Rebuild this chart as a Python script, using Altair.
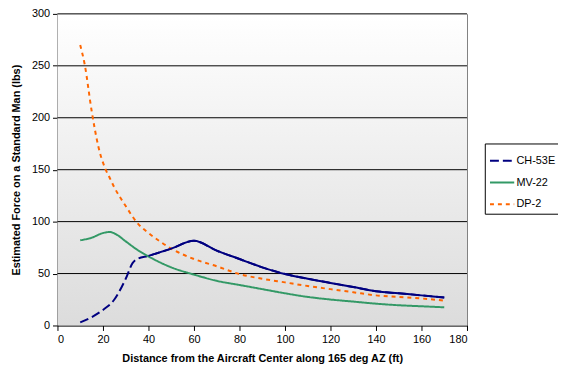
import altair as alt
import pandas as pd

# CH-53E
ch_x = [10, 15, 20, 25, 30, 33, 35, 40, 50, 60, 70, 80, 90, 100, 110, 120, 130, 140, 150, 160, 170]
ch_y = [3, 8, 15, 25, 45, 60, 64, 67, 74, 81.5, 72, 64, 56, 49.5, 45, 41, 37, 33, 31, 29, 27]
# MV-22
mv_x = [10, 15, 20, 23, 26, 30, 35, 40, 50, 60, 70, 80, 90, 100, 110, 120, 130, 140, 150, 160, 170]
mv_y = [82, 84.5, 89, 90, 87.5, 81, 73, 66.5, 56, 49, 43, 39, 35, 31, 27.5, 25, 23, 21, 19.5, 18.5, 17.5]
# DP-2
dp_x = [10, 12, 15, 18, 21, 23, 25, 30, 35, 40, 45, 50, 60, 70, 80, 90, 100, 110, 120, 130, 140, 150, 160, 170]
dp_y = [270, 251, 207, 172, 151, 142, 133, 115, 99, 89, 81, 74, 64, 57, 49.5, 45, 41.5, 38, 35, 32, 29, 27.5, 26, 24]

series = ["CH-53E", "MV-22", "DP-2"]
colors = ["#000080", "#339966", "#FF6600"]
dashes = [[9, 4], [1, 0], [4, 4]]
y_ticks = [0, 50, 100, 150, 200, 250, 300]
grid_vals = [50, 100, 150, 200, 250, 300]

rows = []
for name, xs_, ys_ in [("CH-53E", ch_x, ch_y), ("MV-22", mv_x, mv_y), ("DP-2", dp_x, dp_y)]:
    for a, b in zip(xs_, ys_):
        rows.append({"series": name, "x": a, "y": b})
df = pd.DataFrame(rows)
ch_solid = df[(df.series == "CH-53E") & (df.x >= 37)]

W, H = 414, 315
FONT = "Liberation Sans"

xscale = alt.Scale(domain=[0, 180], nice=False)
yscale = alt.Scale(domain=[0, 300], nice=False)

xs = alt.X("x:Q", scale=xscale,
           axis=alt.Axis(values=list(range(0, 181, 20)), grid=False,
                         title="Distance from the Aircraft Center along 165 deg AZ (ft)",
                         titleFontWeight="bold", titleFontSize=11, titlePadding=8,
                         labelFontSize=11, labelPadding=3, tickSize=5,
                         domainColor="black", tickColor="black", labelColor="black"))
ys = alt.Y("y:Q", scale=yscale,
           axis=alt.Axis(values=y_ticks, grid=False,
                         title="Estimated Force on a Standard Man (lbs)",
                         titleFontWeight="bold", titleFontSize=11, titlePadding=10,
                         labelFontSize=11, labelPadding=3, tickSize=5,
                         domainColor="black", tickColor="black", labelColor="black"))

bg = alt.Chart(pd.DataFrame({"a": [0]})).mark_rect(
    fill=alt.Gradient(gradient="linear", x1=0, y1=0, x2=0, y2=1,
                      stops=[alt.GradientStop(color="#ffffff", offset=0),
                             alt.GradientStop(color="#dcdcdc", offset=1)])
).encode(x=alt.value(0), x2=alt.value(W), y=alt.value(0), y2=alt.value(H))

grid = alt.Chart(pd.DataFrame({"y": grid_vals})).mark_rule(color="#000000", strokeWidth=1).encode(
    y=ys)

lines = alt.Chart(df).mark_line(strokeWidth=2, interpolate="monotone").encode(
    x=xs, y=ys,
    color=alt.Color("series:N", scale=alt.Scale(domain=series, range=colors),
                    sort=series,
                    legend=alt.Legend(title=None, orient="none", legendX=432, legendY=131,
                                      symbolType="stroke", symbolSize=600, symbolStrokeWidth=2,
                                      labelFontSize=11, labelColor="black", rowPadding=3,
                                      padding=4, strokeColor="black", fillColor="white",
                                      labelOffset=1)),
    strokeDash=alt.StrokeDash("series:N", scale=alt.Scale(domain=series, range=dashes),
                              sort=series, legend=None),
    order="x:Q",
)

solid = alt.Chart(ch_solid).mark_line(strokeWidth=2, color="#000080", interpolate="monotone").encode(
    x=xs, y=ys, order="x:Q")

chart = alt.layer(bg, grid, lines, solid).properties(
    width=W, height=H,
    autosize=alt.AutoSizeParams(type="none"),
    padding={"left": 50, "top": 4, "right": 92, "bottom": 39},
).configure(font=FONT).configure_view(stroke="#808080", strokeWidth=1)

chart.save("out.html", embed_options={"renderer": "svg", "actions": False})
